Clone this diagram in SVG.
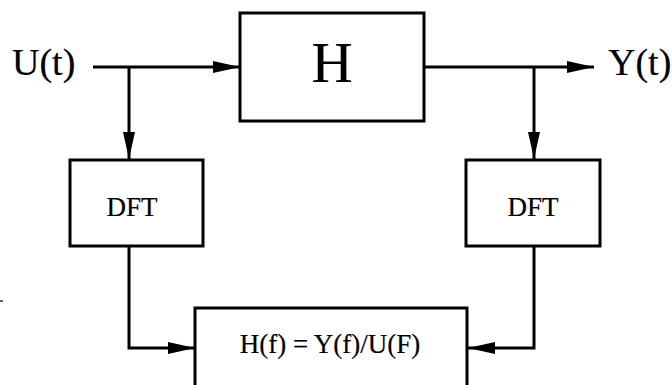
<svg xmlns="http://www.w3.org/2000/svg" width="672" height="385" viewBox="0 0 672 385">
<defs>
<style>
.box{fill:#fff;stroke:#000;stroke-width:3}
.ln{fill:none;stroke:#000;stroke-width:3}
.t{font-family:"Liberation Serif","Times New Roman",serif;fill:#000;stroke:#000;stroke-width:0.2}
</style>
<marker id="ah" markerUnits="userSpaceOnUse" markerWidth="27" markerHeight="12" refX="27" refY="6" orient="auto">
<path d="M0,0 L27,6 L0,12 Z" fill="#000"/>
</marker>
</defs>
<rect width="672" height="385" fill="#fff"/>
<g id="connectors">
<path class="ln" d="M93,67 H240" marker-end="url(#ah)"/>
<path class="ln" d="M129,67 V159" marker-end="url(#ah)"/>
<path class="ln" d="M424,67 H594" marker-end="url(#ah)"/>
<path class="ln" d="M534,67 V159" marker-end="url(#ah)"/>
<path class="ln" d="M129,246 V348 H195" marker-end="url(#ah)"/>
<path class="ln" d="M534,246 V348 H468" marker-end="url(#ah)"/>
</g>
<g id="input"><text class="t" x="12" y="75" font-size="38">U(t)</text></g>
<g id="output"><text class="t" x="608" y="75" font-size="38">Y(t)</text></g>
<g id="H"><rect class="box" x="240" y="13" width="184" height="108"/><text class="t" x="332" y="82" font-size="57" text-anchor="middle">H</text></g>
<g id="dft-left"><rect class="box" x="70" y="160" width="133" height="86"/><text class="t" x="132" y="216" font-size="27" text-anchor="middle">DFT</text></g>
<g id="dft-right"><rect class="box" x="466" y="160" width="134" height="86"/><text class="t" x="533" y="216" font-size="27" text-anchor="middle">DFT</text></g>
<g id="result"><rect class="box" x="195" y="308" width="272" height="90"/><text class="t" x="330" y="353" font-size="27" text-anchor="middle">H(f) = Y(f)/U(F)</text></g>
<line x1="0" y1="301" x2="3" y2="301" stroke="#000" stroke-width="1.2"/>
</svg>
